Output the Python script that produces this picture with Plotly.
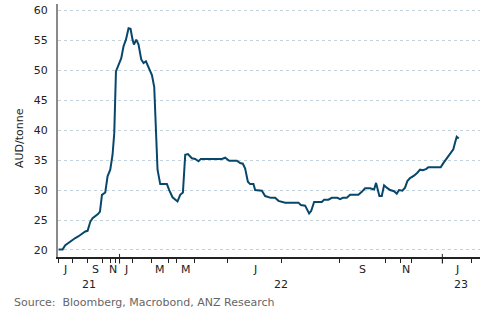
import plotly.graph_objects as go

# observation index (irregular sampling) and coal price, AUD/tonne
obs_index = [0.3, 2.3, 3.65, 5.3, 7.0, 8.65, 10.3, 12.0, 13.65, 14.8, 16.15, 17.3, 18.65, 20.0, 21.0,
             22.0, 23.65, 24.8, 26.15, 27.3, 28.15, 29.0, 30.3, 31.65, 32.8, 34.0, 35.3, 36.3, 37.3, 38.0,
             39.15, 40.3, 41.65, 42.8, 44.0, 45.3, 47.0, 48.15, 49.0, 49.8, 51.15, 54.5, 55.65, 57.3, 59.8,
             61.15, 62.5, 63.65, 65.0, 67.0, 68.65, 70.3, 71.5, 82.0, 83.65, 85.65, 89.5, 91.15, 92.5, 93.65,
             95.0, 96.15, 97.8, 98.65, 102.0, 103.65, 106.5, 108.65, 110.3, 112.0, 113.65, 120.3, 121.5,
             123.65, 124.8, 125.65, 126.65, 128.15, 132.0, 133.15, 135.3, 137.0, 139.8, 141.15, 142.5,
             144.5, 146.15, 150.3, 152.0, 153.65, 156.15, 158.15, 159.15, 159.8, 160.8, 162.0, 163.15,
             164.5, 166.15, 168.15, 169.5, 170.65, 172.3, 173.65, 174.8, 176.15, 178.15, 179.8, 181.15,
             182.5, 184.15, 185.3, 191.5, 192.8, 194.5, 196.15, 197.8, 198.65, 199.5, 200.5]
price = [20.1, 20.1, 20.8, 21.2, 21.7, 22.0, 22.3, 22.7, 23.1, 23.2, 24.7, 25.3, 25.6, 26.0, 26.4,
         29.2, 29.6, 32.3, 33.4, 35.9, 39.5, 49.8, 50.9, 52.0, 54.0, 55.1, 57.0, 56.9, 55.1, 54.3,
         55.1, 54.3, 51.8, 51.2, 51.5, 50.4, 49.2, 47.2, 39.5, 33.4, 31.0, 31.0, 30.0, 28.8, 28.1,
         29.2, 29.6, 35.9, 36.0, 35.3, 35.2, 34.8, 35.2, 35.2, 35.4, 34.9, 34.9, 34.5, 34.4, 33.6,
         31.4, 31.0, 31.0, 30.0, 29.9, 29.0, 28.7, 28.7, 28.2, 28.0, 27.9, 27.9, 27.5,
         27.4, 26.7, 26.1, 26.5, 28.0, 28.0, 28.4, 28.4, 28.7, 28.7, 28.5, 28.7,
         28.7, 29.2, 29.2, 29.7, 30.3, 30.3, 30.1, 31.2, 30.1, 29.0, 29.0, 30.8,
         30.4, 30.0, 29.8, 29.4, 30.0, 29.9, 30.4, 31.5, 32.0, 32.4, 32.9, 33.4,
         33.3, 33.5, 33.8, 33.8, 34.5, 35.3, 36.0, 36.8, 37.9, 38.9, 38.6]

# month boundaries on the observation axis (Jul 2021 .. Feb 2023)
month_start = [0, 7.5, 15, 22.5, 26.15, 28.65, 30.8, 37.5, 47, 55.3, 59.5, 68.3, 85, 112,
               140.8, 163.65, 171.5, 177, 192.3, 206.65]
month_letter = ["J", "A", "S", "O", "N", "D", "J", "F", "M", "A", "M", "J", "J", "A",
                "S", "O", "N", "D", "J", "F"]
axis_end = 211.15
year_label = ["21", "22", "23"]
year_start_month = [0, 6, 18]

y_ticks = [20, 25, 30, 35, 40, 45, 50, 55, 60]

FONT = "DejaVu Sans"
LINE = "#08476b"
FS = 11

fig = go.Figure()
fig.add_trace(go.Scatter(x=obs_index, y=price, mode="lines",
                         line=dict(color=LINE, width=2), hoverinfo="skip", showlegend=False))

bounds = month_start + [axis_end]
annotations = []
for i, letter in enumerate(month_letter):
    if i % 2 == 0 and i + 1 < len(bounds):
        c = (bounds[i] + bounds[i + 1]) / 2
        annotations.append(dict(x=c, y=0, xref="x", yref="paper", text=letter, showarrow=False,
                                yanchor="middle", yshift=-12, font=dict(family=FONT, size=FS, color="#222")))
ys = [month_start[m] for m in year_start_month] + [axis_end]
for k, lab in enumerate(year_label):
    c = (ys[k] + ys[k + 1]) / 2
    annotations.append(dict(x=c, y=0, xref="x", yref="paper", text=lab, showarrow=False,
                            yanchor="middle", yshift=-27, font=dict(family=FONT, size=FS, color="#222")))
annotations.append(dict(x=0, y=0, xref="paper", yref="paper", text="Source:  Bloomberg, Macrobond, ANZ Research",
                        showarrow=False, xanchor="left", yanchor="middle", xshift=-46, yshift=-45,
                        font=dict(family=FONT, size=FS, color="#666")))
annotations.append(dict(x=0, y=0.47, xref="paper", yref="paper", text="AUD/tonne", textangle=-90,
                        showarrow=False, xanchor="center", xshift=-39, font=dict(family=FONT, size=FS, color="#222")))

shapes = []
for m in year_start_month[1:]:
    shapes.append(dict(type="line", xref="x", yref="paper", x0=month_start[m], x1=month_start[m],
                       y0=-0.026, y1=0.012, line=dict(color="#222", width=1)))

fig.update_layout(
    width=489, height=336,
    margin=dict(l=58, r=9, t=4, b=79),
    plot_bgcolor="white", paper_bgcolor="white",
    font=dict(family=FONT, size=FS, color="#222"),
    annotations=annotations, shapes=shapes,
    xaxis=dict(range=[0, axis_end], tickmode="array", tickvals=month_start, showticklabels=False,
               ticks="outside", ticklen=4, tickcolor="#222", showgrid=False, zeroline=False,
               showline=True, linecolor="#222", linewidth=1.5),
    yaxis=dict(range=[18.83, 61.05], tickmode="array", tickvals=y_ticks, ticks="", ticklabelstandoff=6,
               showgrid=True, gridcolor="#c2d3de", griddash="dot", gridwidth=1, zeroline=False,
               showline=True, linecolor="#8a8a8a", linewidth=2,
               tickfont=dict(family=FONT, size=FS, color="#222")),
)

fig.write_html("out.html")
